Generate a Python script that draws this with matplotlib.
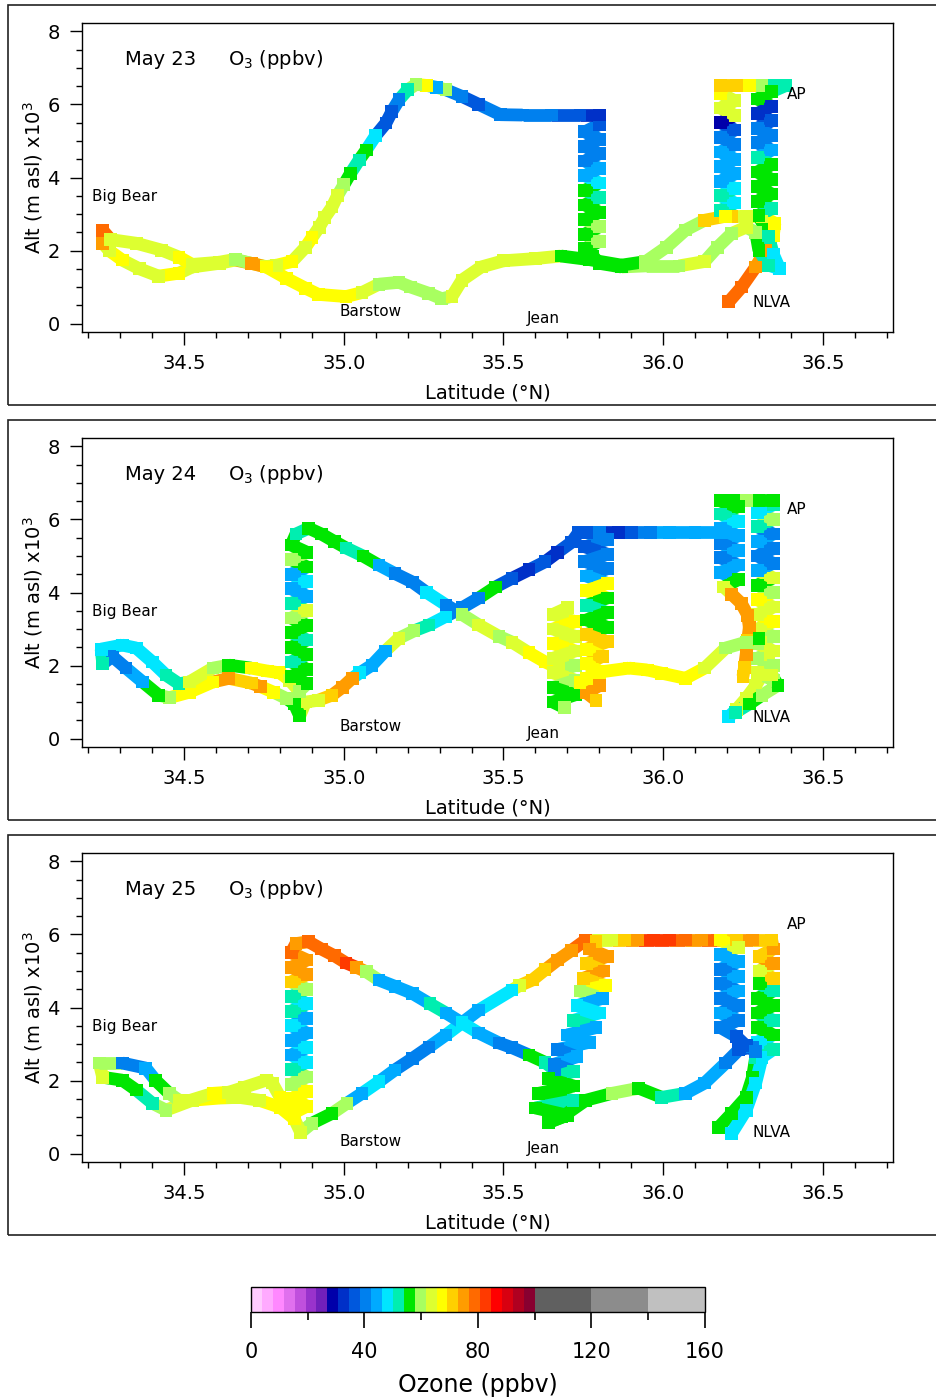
import numpy as np
import matplotlib
matplotlib.use("Agg")
import matplotlib.pyplot as plt
from matplotlib.collections import LineCollection
from matplotlib.colors import ListedColormap, BoundaryNorm
from matplotlib.patches import Rectangle
from matplotlib.ticker import MultipleLocator, FormatStrFormatter
import matplotlib.cm as cm

nan = float("nan")
BREAK = (nan, nan, nan)

# ---------------- colour scale (ozone, ppbv) ----------------
ozone_colors = ['#ffccff', '#ffaaff', '#ff88ff', '#e070ee', '#c050dd', '#9933cc', '#7020bb',
                '#0000aa', '#0030c8', '#0058dd', '#0080ee', '#00aaff', '#00e6ff', '#00eeb0',
                '#00e600', '#a8ff60', '#ddff30', '#ffff00', '#ffd000', '#ff9c00', '#ff6a00',
                '#ff3a00', '#ff0000', '#d80010', '#b00020', '#880030',
                '#606060', '#8c8c8c', '#c0c0c0']
ozone_bounds = list(np.linspace(0, 100, 27)) + [120, 140, 160]
cbar_ticks = [0, 40, 80, 120, 160]
cbar_minor = [20, 60, 100, 140]

panel_dates = ["May 23", "May 24", "May 25"]

# site labels (lat, alt)
site_names = ["Big Bear", "Barstow", "Jean", "AP", "NLVA"]
site_lat = [34.212, 34.988, 35.574, 36.387, 36.281]
site_alt = [3.49, 0.34, 0.15, 6.26, 0.58]

# ---------------- flight tracks: (latitude, altitude km, O3 ppbv) ----------------
track_may23 = [
    (36.206, 0.60, 78), (36.246, 1.00, 77), (36.290, 1.55, 76), (36.320, 2.01, 75),
    (36.345, 2.40, 68), (36.350, 2.75, 67), (36.310, 2.94, 64), (36.260, 2.94, 62),
    (36.215, 2.94, 72),
    (36.180, 3.10, 50), (36.225, 3.30, 48), (36.180, 3.50, 50), (36.225, 3.70, 47),
    (36.180, 3.90, 45), (36.225, 4.10, 44), (36.180, 4.30, 44), (36.225, 4.50, 43),
    (36.180, 4.70, 44), (36.225, 4.90, 40), (36.180, 5.10, 41), (36.225, 5.30, 38),
    (36.180, 5.50, 30), (36.225, 5.70, 62), (36.180, 5.90, 63), (36.225, 6.10, 65),
    (36.180, 6.30, 68), (36.180, 6.52, 72),
    (36.230, 6.52, 70), (36.270, 6.52, 67), (36.310, 6.52, 60), (36.350, 6.52, 52),
    (36.385, 6.52, 50),
    (36.340, 6.35, 55), (36.295, 6.15, 54), (36.340, 5.95, 33), (36.295, 5.75, 32),
    (36.340, 5.55, 36), (36.295, 5.35, 40), (36.340, 5.15, 41), (36.295, 4.95, 42),
    (36.340, 4.75, 44), (36.295, 4.55, 50), (36.340, 4.35, 55), (36.295, 4.15, 56),
    (36.340, 3.95, 54), (36.295, 3.75, 56), (36.340, 3.55, 57), (36.295, 3.35, 55),
    (36.340, 3.15, 52), (36.300, 2.95, 56),
    (36.330, 2.40, 50), (36.345, 1.90, 49), (36.365, 1.50, 48), (36.330, 1.60, 52),
    (36.300, 2.00, 55),
    (36.290, 2.50, 60), (36.260, 2.64, 62), (36.215, 2.47, 61), (36.170, 2.09, 60),
    (36.130, 1.70, 62), (36.050, 1.58, 60), (35.946, 1.58, 58),
    (35.870, 1.55, 54), (35.800, 1.65, 55), (35.780, 1.85, 56),
    (35.755, 2.05, 56), (35.800, 2.25, 58), (35.755, 2.45, 56), (35.800, 2.65, 60),
    (35.755, 2.85, 56), (35.800, 3.05, 55), (35.755, 3.25, 56), (35.800, 3.45, 53),
    (35.755, 3.65, 56), (35.800, 3.85, 47), (35.755, 4.05, 44), (35.800, 4.25, 43),
    (35.755, 4.45, 42), (35.800, 4.65, 41), (35.755, 4.85, 42), (35.800, 5.05, 40),
    (35.755, 5.25, 42), (35.800, 5.45, 38), (35.800, 5.71, 32),
    (35.740, 5.71, 38), (35.650, 5.71, 40), (35.560, 5.71, 39), (35.490, 5.72, 40),
    (35.423, 6.00, 38), (35.370, 6.22, 42), (35.320, 6.40, 58), (35.290, 6.47, 45),
    (35.260, 6.52, 67), (35.226, 6.55, 60),
    (35.200, 6.40, 52), (35.173, 6.13, 40), (35.150, 5.80, 36), (35.132, 5.49, 38),
    (35.100, 5.15, 47), (35.070, 4.75, 56), (35.048, 4.48, 52), (35.020, 4.10, 57),
    (35.000, 3.80, 60), (34.980, 3.50, 62), (34.963, 3.19, 63), (34.940, 2.90, 64),
    (34.923, 2.64, 64), (34.900, 2.35, 66), (34.880, 2.09, 64), (34.838, 1.70, 66),
    (34.790, 1.60, 64),
    (34.757, 1.56, 65), (34.710, 1.65, 75), (34.660, 1.74, 63), (34.610, 1.65, 62),
    (34.525, 1.55, 64),
    (34.484, 1.38, 66), (34.420, 1.30, 64), (34.360, 1.50, 62), (34.306, 1.74, 66),
    (34.265, 2.00, 64), (34.245, 2.20, 76), (34.245, 2.55, 77),
    (34.270, 2.30, 63), (34.350, 2.20, 64), (34.430, 2.01, 65), (34.484, 1.82, 66),
    (34.525, 1.62, 63), (34.610, 1.68, 62), (34.660, 1.76, 60), (34.710, 1.65, 74),
    (34.757, 1.55, 66),
    (34.820, 1.24, 67), (34.880, 0.97, 66), (34.920, 0.80, 67), (35.007, 0.74, 68),
    (35.057, 0.85, 65), (35.110, 1.08, 60), (35.173, 1.13, 58), (35.210, 1.00, 60),
    (35.266, 0.83, 58), (35.307, 0.68, 61), (35.339, 0.75, 62), (35.370, 1.19, 62),
    (35.430, 1.55, 63), (35.500, 1.72, 63), (35.600, 1.78, 62), (35.680, 1.85, 57),
    (35.770, 1.75, 56), (35.870, 1.60, 54), (35.946, 1.70, 58),
    (36.010, 2.09, 58), (36.070, 2.56, 60), (36.130, 2.83, 70), (36.196, 2.94, 68),
]

track_may24 = [
    (36.206, 0.60, 48), (36.230, 0.80, 62), (36.260, 1.10, 63), (36.290, 1.45, 64),
    (36.310, 1.74, 62), (36.330, 2.29, 64), (36.320, 2.64, 62), BREAK,
    (36.345, 1.60, 60), (36.295, 1.80, 62), (36.345, 2.00, 58), (36.295, 2.20, 60),
    (36.345, 2.40, 62), (36.295, 2.60, 60), (36.345, 2.80, 60), (36.295, 3.00, 64),
    (36.345, 3.20, 66), (36.295, 3.40, 64), (36.345, 3.60, 62), (36.295, 3.80, 66),
    (36.345, 4.00, 60), (36.295, 4.20, 57), (36.345, 4.40, 62), (36.295, 4.60, 44),
    (36.345, 4.80, 40), (36.295, 5.00, 42), (36.345, 5.20, 40), (36.295, 5.40, 44),
    (36.345, 5.60, 41), (36.295, 5.80, 50), (36.345, 6.00, 58), (36.295, 6.20, 48),
    (36.345, 6.40, 52), (36.345, 6.52, 56),
    (36.300, 6.52, 54), (36.260, 6.52, 58), (36.220, 6.52, 55), (36.180, 6.52, 56),
    (36.235, 6.35, 54), (36.180, 6.15, 50), (36.235, 5.95, 48), (36.180, 5.75, 46),
    (36.235, 5.55, 44), (36.180, 5.35, 42), (36.235, 5.15, 44), (36.180, 4.95, 40),
    (36.235, 4.75, 43), (36.180, 4.55, 44), (36.235, 4.35, 56), (36.190, 4.15, 62),
    (36.215, 3.95, 74), (36.245, 3.70, 75), (36.265, 3.38, 74), (36.270, 3.05, 76),
    (36.265, 2.70, 72), (36.260, 2.30, 74), (36.255, 1.95, 72), (36.250, 1.70, 70),
    BREAK,
    (36.227, 0.72, 50), (36.270, 0.95, 54), (36.310, 1.19, 60), (36.360, 1.46, 56),
    (36.340, 1.74, 62), BREAK,
    (36.180, 5.65, 46), (36.100, 5.65, 46), (36.020, 5.65, 44), (35.960, 5.65, 40),
    (35.900, 5.65, 38), (35.860, 5.65, 32), (35.800, 5.65, 40), (35.736, 5.65, 38),
    (35.714, 5.38, 36), (35.670, 5.10, 34), (35.630, 4.84, 36), (35.580, 4.62, 32),
    (35.527, 4.39, 38), (35.475, 4.15, 54), (35.423, 3.85, 40), (35.370, 3.58, 40),
    (35.320, 3.35, 48), (35.267, 3.11, 50), (35.220, 2.95, 58), (35.173, 2.75, 62),
    (35.130, 2.40, 46), (35.088, 2.01, 44), (35.050, 1.80, 48), (35.026, 1.65, 74),
    (34.995, 1.40, 76), (34.963, 1.19, 73), (34.920, 1.05, 64), (34.880, 1.00, 62),
    (34.862, 0.62, 56), (34.845, 0.95, 54),
    (34.820, 1.10, 60), (34.780, 1.27, 66), (34.740, 1.42, 74), (34.710, 1.52, 72),
    (34.640, 1.65, 74), (34.590, 1.55, 67), (34.516, 1.27, 66), (34.453, 1.12, 58),
    (34.420, 1.19, 56), (34.370, 1.55, 44), (34.318, 1.93, 42), (34.275, 2.25, 41),
    (34.245, 2.05, 50), (34.240, 2.45, 48),
    (34.306, 2.56, 47), (34.350, 2.48, 48), (34.400, 2.10, 47), (34.443, 1.74, 52),
    (34.484, 1.50, 50),
    (34.516, 1.55, 62), (34.590, 1.93, 60), (34.640, 2.01, 56), (34.710, 1.93, 66),
    (34.760, 1.85, 67), (34.800, 1.80, 66), (34.830, 1.60, 62),
    (34.860, 1.30, 58), (34.885, 1.50, 56), (34.835, 1.70, 55), (34.885, 1.90, 56),
    (34.835, 2.10, 53), (34.885, 2.30, 56), (34.835, 2.50, 56), (34.885, 2.70, 52),
    (34.835, 2.90, 56), (34.885, 3.10, 55), (34.835, 3.30, 60), (34.885, 3.50, 62),
    (34.835, 3.70, 52), (34.885, 3.90, 46), (34.835, 4.10, 44), (34.885, 4.30, 48),
    (34.835, 4.50, 44), (34.885, 4.70, 56), (34.835, 4.90, 58), (34.885, 5.10, 56),
    (34.835, 5.30, 57), (34.850, 5.60, 50), (34.890, 5.76, 56),
    (34.930, 5.60, 56), (34.970, 5.40, 54), (35.007, 5.22, 52), (35.060, 5.00, 56),
    (35.110, 4.75, 44), (35.160, 4.52, 42), (35.214, 4.29, 40), (35.260, 4.00, 48),
    (35.320, 3.66, 40), (35.370, 3.40, 60), (35.423, 3.11, 62), (35.486, 2.80, 60),
    (35.527, 2.64, 64), (35.580, 2.35, 66), (35.630, 2.10, 66), (35.674, 1.92, 64),
    BREAK,
    (35.700, 3.58, 62), (35.655, 3.40, 64), (35.725, 3.20, 66), (35.655, 3.00, 62),
    (35.725, 2.80, 64), (35.655, 2.60, 66), (35.725, 2.40, 62), (35.655, 2.20, 64),
    (35.725, 2.00, 60), (35.655, 1.80, 62), (35.725, 1.60, 58), (35.655, 1.40, 56),
    (35.725, 1.20, 56), (35.655, 1.00, 56), (35.690, 0.85, 58), BREAK,
    (35.760, 5.65, 38), (35.825, 5.45, 40), (35.755, 5.25, 38), (35.825, 5.05, 40),
    (35.755, 4.85, 42), (35.825, 4.65, 40), (35.760, 4.45, 44), (35.825, 4.25, 67),
    (35.760, 4.05, 66), (35.825, 3.85, 54), (35.760, 3.65, 52), (35.825, 3.45, 56),
    (35.760, 3.25, 54), (35.825, 3.05, 56), (35.760, 2.85, 70), (35.825, 2.65, 72),
    (35.760, 2.45, 68), (35.810, 2.25, 70), (35.760, 2.05, 66), (35.800, 1.85, 67),
    (35.760, 1.65, 66), (35.800, 1.45, 74), (35.760, 1.25, 74), (35.790, 1.05, 72),
    BREAK,
    (35.740, 1.54, 67), (35.800, 1.82, 66), (35.893, 1.93, 67), (35.950, 1.88, 66),
    (35.996, 1.79, 66), (36.070, 1.65, 67), (36.130, 1.93, 64), (36.196, 2.48, 60),
    (36.260, 2.64, 58), (36.300, 2.75, 56),
]

track_may25 = [
    (36.174, 0.72, 56), (36.215, 1.10, 56), (36.260, 1.54, 54), (36.280, 2.09, 56),
    (36.290, 2.64, 52), BREAK,
    (36.215, 0.56, 48), (36.260, 1.19, 48), (36.290, 1.93, 47), (36.310, 2.64, 48),
    (36.345, 2.85, 50), (36.295, 3.05, 48), (36.345, 3.25, 54), (36.295, 3.45, 56),
    (36.345, 3.65, 52), (36.295, 3.85, 56), (36.345, 4.05, 54), (36.295, 4.25, 56),
    (36.345, 4.45, 50), (36.300, 4.65, 54), (36.345, 4.80, 72), (36.300, 5.00, 62),
    (36.345, 5.20, 74), (36.300, 5.40, 72), (36.345, 5.60, 74), (36.340, 5.85, 72),
    (36.280, 5.85, 74), (36.230, 5.85, 72), (36.170, 5.85, 78), (36.120, 5.85, 76),
    (36.070, 5.85, 80), (36.020, 5.85, 84), (35.970, 5.85, 82), (35.920, 5.85, 74),
    (35.880, 5.85, 72), (35.840, 5.85, 64), (35.800, 5.85, 62), (35.758, 5.85, 80),
    (35.714, 5.57, 76), (35.670, 5.30, 74), (35.630, 5.03, 72), (35.590, 4.75, 70),
    (35.550, 4.60, 62), (35.527, 4.48, 48), (35.423, 3.93, 46), (35.370, 3.58, 48),
    (35.320, 3.25, 44), (35.267, 2.92, 40), (35.214, 2.60, 40), (35.160, 2.29, 46),
    (35.110, 1.97, 47), (35.057, 1.65, 46), (35.010, 1.38, 58), (34.963, 1.10, 56),
    (34.900, 0.83, 60),
    (34.865, 0.58, 62), (34.845, 0.95, 66),
    (34.800, 1.27, 66), (34.735, 1.46, 64), (34.672, 1.54, 62), (34.610, 1.52, 66),
    (34.525, 1.46, 64), (34.443, 1.19, 60),
    (34.400, 1.38, 52), (34.350, 1.74, 56), (34.306, 2.01, 56), (34.245, 2.09, 62),
    (34.234, 2.48, 60),
    (34.306, 2.48, 42), (34.380, 2.34, 44), (34.410, 2.01, 56), (34.453, 1.65, 60),
    (34.484, 1.46, 62),
    (34.516, 1.45, 64), (34.590, 1.65, 66), (34.640, 1.68, 64), (34.690, 1.82, 62),
    (34.757, 2.01, 62), (34.776, 1.93, 64), (34.800, 1.55, 66), (34.840, 1.10, 66),
    (34.885, 1.30, 66), (34.835, 1.50, 67), (34.885, 1.70, 66), (34.835, 1.90, 60),
    (34.885, 2.10, 58), (34.835, 2.30, 50), (34.885, 2.50, 48), (34.835, 2.70, 46),
    (34.885, 2.90, 48), (34.835, 3.10, 46), (34.885, 3.30, 44), (34.835, 3.50, 48),
    (34.885, 3.70, 46), (34.835, 3.90, 50), (34.885, 4.10, 48), (34.835, 4.30, 50),
    (34.885, 4.50, 60), (34.835, 4.70, 72), (34.885, 4.90, 74), (34.835, 5.10, 76),
    (34.885, 5.30, 76), (34.835, 5.50, 78), (34.850, 5.75, 76), (34.890, 5.80, 78),
    (34.930, 5.60, 80), (34.970, 5.42, 78), (35.007, 5.22, 82), (35.040, 5.10, 74),
    (35.070, 4.98, 58), (35.110, 4.75, 46), (35.160, 4.58, 44), (35.214, 4.39, 46),
    (35.270, 4.10, 50), (35.320, 3.85, 46), (35.370, 3.58, 48), (35.423, 3.30, 44),
    (35.486, 3.03, 40), (35.527, 2.90, 40), (35.580, 2.70, 54), (35.630, 2.50, 52),
    (35.660, 2.29, 40), BREAK,
    (35.790, 5.80, 72), (35.770, 5.60, 74), (35.825, 5.40, 74), (35.760, 5.20, 72),
    (35.815, 5.00, 76), (35.750, 4.80, 70), (35.820, 4.60, 66), (35.740, 4.45, 60),
    (35.810, 4.25, 46), (35.730, 4.05, 48), (35.800, 3.85, 47), (35.720, 3.65, 50),
    (35.790, 3.45, 46), (35.700, 3.25, 44), (35.770, 3.05, 44), (35.670, 2.85, 40),
    (35.730, 2.65, 44), (35.660, 2.45, 40), (35.720, 2.25, 52), (35.640, 2.05, 56),
    (35.720, 1.85, 54), (35.610, 1.65, 56), (35.720, 1.45, 52), (35.600, 1.25, 56),
    (35.700, 1.05, 54), (35.640, 0.85, 56), (35.683, 1.00, 56),
    (35.758, 1.46, 56), (35.840, 1.65, 58), (35.924, 1.79, 56), (35.996, 1.54, 50),
    (36.070, 1.65, 46), (36.130, 1.93, 44), (36.196, 2.48, 40), (36.237, 2.84, 38),
    (36.280, 2.92, 40), BREAK,
    (36.180, 5.85, 66), (36.235, 5.65, 64), (36.180, 5.45, 44), (36.235, 5.25, 46),
    (36.180, 5.05, 42), (36.235, 4.85, 44), (36.180, 4.65, 42), (36.235, 4.45, 44),
    (36.180, 4.25, 40), (36.235, 4.05, 42), (36.180, 3.85, 44), (36.235, 3.65, 42),
    (36.180, 3.45, 40), (36.230, 3.20, 38), (36.260, 2.95, 38), (36.290, 2.80, 40),
]

tracks = [track_may23, track_may24, track_may25]

# ---------------- figure ----------------
W, H = 937, 1397
fig = plt.figure(figsize=(W / 100, H / 100), dpi=100)
plt.rcParams['font.family'] = ['DejaVu Sans']

cmap = ListedColormap(ozone_colors)
norm = BoundaryNorm(ozone_bounds, cmap.N)
TRACK_W = 9.2  # points


def draw_track(ax, track):
    arr = np.array(track, dtype=float)
    segs, vals = [], []
    for i in range(len(arr) - 1):
        a, b = arr[i], arr[i + 1]
        if np.isnan(a).any() or np.isnan(b).any():
            continue
        segs.append([(a[0], a[1]), (b[0], b[1])])
        vals.append(a[2])
    lc = LineCollection(segs, cmap=cmap, norm=norm, linewidths=TRACK_W,
                        capstyle='butt', joinstyle='miter', zorder=3)
    lc.set_array(np.array(vals))
    ax.add_collection(lc)
    ok = ~np.isnan(arr[:, 0])
    ax.scatter(arr[ok, 0], arr[ok, 1], c=arr[ok, 2], cmap=cmap, norm=norm,
               marker='s', s=TRACK_W ** 2, linewidths=0, zorder=3.1)


ax_left, ax_right = 82, 893
panel_tops = [23, 438, 853]
panel_h = 309
box_tops = [5, 420, 835]

for k in range(3):
    top = panel_tops[k]
    ax = fig.add_axes([ax_left / W, 1 - (top + panel_h) / H,
                       (ax_right - ax_left) / W, panel_h / H])
    ax.set_xlim(34.18, 36.72)
    ax.set_ylim(-0.23, 8.23)
    ax.xaxis.set_major_locator(MultipleLocator(0.5))
    ax.xaxis.set_minor_locator(MultipleLocator(0.1))
    ax.yaxis.set_major_locator(MultipleLocator(2))
    ax.yaxis.set_minor_locator(MultipleLocator(0.5))
    ax.xaxis.set_major_formatter(FormatStrFormatter('%.1f'))
    ax.tick_params(which='both', direction='out', top=False, right=False,
                   labelsize=14, width=1.0, colors='black')
    ax.tick_params(which='major', length=9, pad=7)
    ax.tick_params(which='minor', length=4.5)
    for sp in ax.spines.values():
        sp.set_linewidth(1.0)
    ax.set_xlabel('Latitude (°N)', fontsize=14)
    ax.xaxis.set_label_coords(0.5, -0.168)
    ax.set_ylabel('Alt (m asl) x10$^3$', fontsize=14)
    ax.yaxis.set_label_coords(-0.046, 0.5)

    draw_track(ax, tracks[k])

    ax.text(34.315, 7.22, panel_dates[k], fontsize=14, ha='left', va='center')
    ax.text(34.638, 7.22, 'O$_3$ (ppbv)', fontsize=14, ha='left', va='center')
    for name, la, al in zip(site_names, site_lat, site_alt):
        ax.text(la, al, name, fontsize=11, ha='left', va='center', zorder=4)

    # outer frame of the panel
    bt = box_tops[k]
    fig.add_artist(Rectangle((8 / W, 1 - (bt + 400) / H), 1.05, 400 / H,
                             transform=fig.transFigure, fill=False,
                             lw=1.2, ec='#222222'))

# ---------------- colour bar ----------------
cax = fig.add_axes([251 / W, 1 - 1312 / H, 454 / W, 25 / H])
sm = cm.ScalarMappable(cmap=cmap, norm=norm)
cb = fig.colorbar(sm, cax=cax, orientation='horizontal', spacing='proportional',
                  ticks=cbar_ticks)
cb.ax.set_xticks(cbar_minor, minor=True)
cb.ax.set_xticklabels([str(t) for t in cbar_ticks])
cb.ax.tick_params(which='major', length=11.5, width=1.2, labelsize=15, pad=10,
                  direction='out')
cb.ax.tick_params(which='minor', length=6, width=1.2, direction='out')
cb.outline.set_linewidth(1.0)
cb.set_label('Ozone (ppbv)', fontsize=17, labelpad=8)

fig.savefig('out.png', dpi=100)
